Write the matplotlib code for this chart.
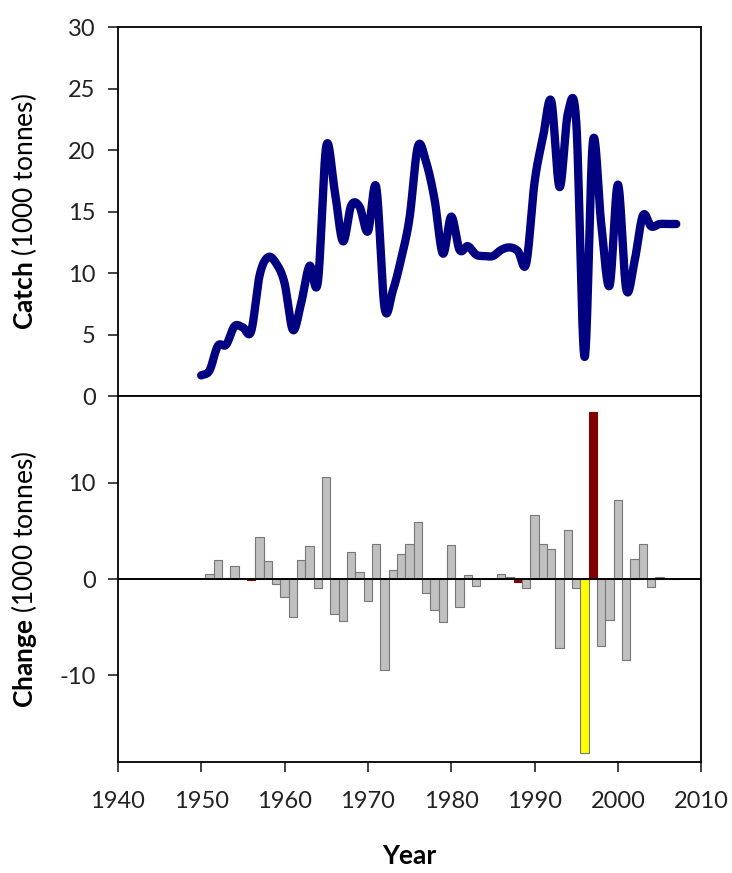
import numpy as np
import matplotlib.pyplot as plt

# Calibri-like look: Lato (Carlito is derived from it)
plt.rcParams['font.family'] = ['Lato', 'DejaVu Sans']
plt.rcParams['mathtext.fontset'] = 'custom'
plt.rcParams['mathtext.rm'] = 'Lato'
plt.rcParams['mathtext.bf'] = 'Lato:bold'
plt.rcParams['axes.unicode_minus'] = False

# ── data ─────────────────────────────────────────────────────
years = list(range(1950, 2008))
catch = [1.7, 2.1, 4.1, 4.2, 5.7, 5.6, 5.3, 9.8, 11.3, 10.8,
         9.2, 5.4, 7.6, 10.6, 9.3, 20.3, 16.8, 12.6, 15.5, 15.4,
         13.4, 17.0, 7.2, 8.6, 11.2, 14.5, 20.3, 19.0, 16.0, 11.6,
         14.6, 11.9, 12.2, 11.5, 11.4, 11.4, 11.9, 12.1, 11.8, 10.8,
         17.4, 21.0, 24.0, 17.0, 23.0, 22.3, 3.2, 20.7, 14.0, 9.0,
         17.2, 8.7, 11.0, 14.7, 13.8, 14.0, 14.0, 14.0]

change_years = list(range(1951, 2008))
change = [0.5, 2.0, 0.1, 1.4, 0.0, -0.1, 4.4, 1.9, -0.5,
          -1.8, -3.9, 2.0, 3.5, -0.9, 10.6, -3.6, -4.3, 2.8, 0.7,
          -2.3, 3.7, -9.4, 1.0, 2.6, 3.7, 5.9, -1.4, -3.2, -4.4,
          3.6, -2.9, 0.4, -0.7, 0.0, 0.0, 0.5, 0.2, -0.3, -0.9,
          6.7, 3.7, 3.1, -7.1, 5.1, -0.9, -18.1, 17.4, -6.9, -4.2,
          8.2, -8.4, 2.1, 3.7, -0.8, 0.2, 0.0, 0.0]

red_years = [1956, 1988, 1997]     # dark red bars
yellow_years = [1996]              # yellow bar

xticks = list(range(1940, 2011, 10))
catch_ticks = list(range(0, 31, 5))
change_ticks = [-10, 0, 10]


def smooth_line(x, y, n=30):
    """Excel-style smoothed line (Catmull-Rom / cubic Hermite)."""
    x = np.asarray(x, float)
    y = np.asarray(y, float)
    m = np.empty_like(y)
    m[1:-1] = (y[2:] - y[:-2]) / 2
    m[0] = y[1] - y[0]
    m[-1] = y[-1] - y[-2]
    xs, ys = [], []
    t = np.linspace(0, 1, n, endpoint=False)
    h00 = 2 * t**3 - 3 * t**2 + 1
    h10 = t**3 - 2 * t**2 + t
    h01 = -2 * t**3 + 3 * t**2
    h11 = t**3 - t**2
    for i in range(len(x) - 1):
        dx = x[i + 1] - x[i]
        xs.append(x[i] + t * dx)
        ys.append(h00 * y[i] + h10 * m[i] + h01 * y[i + 1] + h11 * m[i + 1])
    xs.append([x[-1]])
    ys.append([y[-1]])
    return np.concatenate(xs), np.concatenate(ys)


fig = plt.figure(figsize=(7.32, 8.73), dpi=100)
ax1 = fig.add_axes([0.161, 0.546, 0.797, 0.423])
ax2 = fig.add_axes([0.161, 0.127, 0.797, 0.419])

# ── top: catch ───────────────────────────────────────────────
sx, sy = smooth_line(years, catch)
ax1.plot(sx, sy, color='#000080', lw=6.0, solid_capstyle='round',
         solid_joinstyle='round')
ax1.set_xlim(1940, 2010)
ax1.set_ylim(0, 30)
ax1.set_yticks(catch_ticks)
ax1.tick_params(axis='x', bottom=False, labelbottom=False)
ax1.set_ylabel(r'$\bf{Catch}$ (1000 tonnes)', fontsize=19)
ax1.yaxis.set_label_coords(-0.135, 0.5)

# ── bottom: change ───────────────────────────────────────────
colors = []
for yr in change_years:
    if yr in yellow_years:
        colors.append('#ffff00')
    elif yr in red_years:
        colors.append('#800000')
    else:
        colors.append('#c0c0c0')
edges = ['#800000' if c == '#800000' else '#777777' for c in colors]
ax2.bar(change_years, change, width=1.0, color=colors, edgecolor=edges,
        linewidth=0.8, zorder=2)
ax2.axhline(0, color='black', lw=1.4, zorder=3)
ax2.set_xlim(1940, 2010)
ax2.set_ylim(-19, 19)
ax2.set_yticks(change_ticks)
ax2.set_xticks(xticks)
ax2.set_ylabel(r'$\bf{Change}$ (1000 tonnes)', fontsize=19)
ax2.yaxis.set_label_coords(-0.135, 0.5)
ax2.set_xlabel('Year', fontsize=19, fontweight='bold')
ax2.xaxis.set_label_coords(0.5, -0.225)

for ax in (ax1, ax2):
    for sp in ax.spines.values():
        sp.set_linewidth(1.3)
        sp.set_color('black')
    ax.tick_params(direction='out', length=7, width=1.2, labelsize=17,
                   colors='#222222')
    ax.tick_params(axis='y', pad=9)
ax2.tick_params(axis='x', pad=14)

fig.savefig('out.png', dpi=100)
